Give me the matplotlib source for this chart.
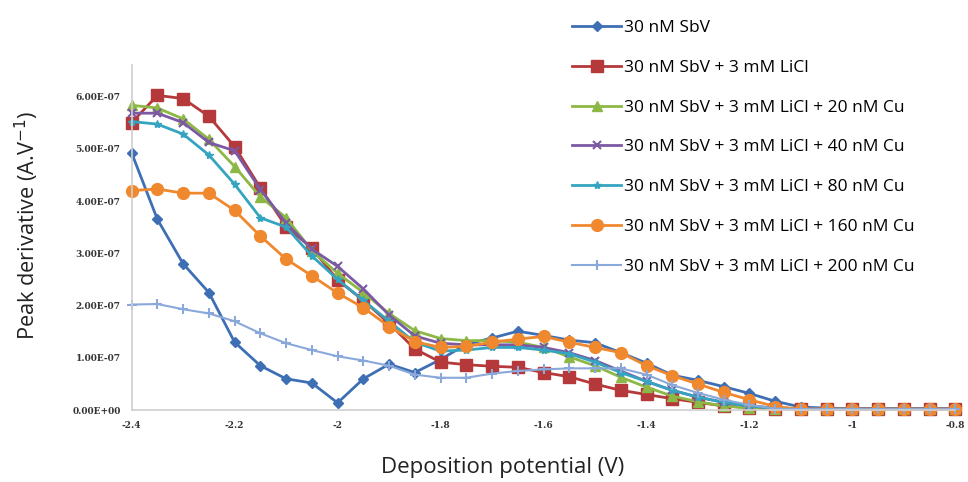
import matplotlib
matplotlib.use("Agg")
import matplotlib.pyplot as plt
import numpy as np

plt.rcParams['font.family'] = ['Open Sans', 'DejaVu Sans']

potential = [-2.4, -2.35, -2.3, -2.25, -2.2, -2.15, -2.1, -2.05, -2.0, -1.95, -1.9,
             -1.85, -1.8, -1.75, -1.7, -1.65, -1.6, -1.55, -1.5, -1.45, -1.4, -1.35,
             -1.3, -1.25, -1.2, -1.15, -1.1, -1.05, -1.0, -0.95, -0.9, -0.85, -0.8]

sbv = [4.92, 3.65, 2.80, 2.25, 1.30, 0.85, 0.60, 0.52, 0.14, 0.60, 0.88,
       0.72, 0.97, 1.26, 1.38, 1.51, 1.43, 1.34, 1.29, 1.10, 0.90, 0.67,
       0.57, 0.45, 0.32, 0.17, 0.06, 0.04, 0.03, 0.03, 0.03, 0.03, 0.03]
sbv_licl = [5.50, 6.02, 5.96, 5.62, 5.04, 4.25, 3.51, 3.10, 2.49, 2.10, 1.66,
            1.17, 0.92, 0.87, 0.84, 0.82, 0.72, 0.64, 0.50, 0.38, 0.30, 0.22,
            0.15, 0.08, 0.05, 0.03, 0.02, 0.02, 0.02, 0.02, 0.02, 0.02, 0.02]
cu20 = [5.83, 5.78, 5.57, 5.18, 4.66, 4.08, 3.68, 3.05, 2.62, 2.25, 1.85,
        1.52, 1.37, 1.33, 1.33, 1.30, 1.20, 1.02, 0.85, 0.63, 0.44, 0.27,
        0.16, 0.08, 0.04, 0.03, 0.03, 0.03, 0.03, 0.03, 0.03, 0.03, 0.03]
cu40 = [5.68, 5.68, 5.50, 5.12, 4.96, 4.22, 3.58, 3.08, 2.75, 2.32, 1.82,
        1.42, 1.28, 1.25, 1.25, 1.25, 1.20, 1.10, 0.95, 0.75, 0.55, 0.38,
        0.25, 0.15, 0.08, 0.04, 0.03, 0.03, 0.03, 0.03, 0.03, 0.03, 0.03]
cu80 = [5.52, 5.47, 5.28, 4.88, 4.32, 3.68, 3.50, 2.95, 2.50, 2.10, 1.70,
        1.30, 1.13, 1.15, 1.20, 1.20, 1.15, 1.08, 0.92, 0.72, 0.55, 0.38,
        0.25, 0.15, 0.08, 0.04, 0.02, 0.02, 0.02, 0.02, 0.02, 0.02, 0.02]
cu160 = [4.20, 4.23, 4.15, 4.15, 3.82, 3.33, 2.89, 2.57, 2.24, 1.96, 1.60,
         1.31, 1.20, 1.22, 1.30, 1.36, 1.41, 1.30, 1.20, 1.10, 0.85, 0.66,
         0.50, 0.34, 0.20, 0.07, 0.02, 0.02, 0.02, 0.02, 0.02, 0.02, 0.02]
cu200 = [2.02, 2.03, 1.93, 1.85, 1.70, 1.47, 1.28, 1.15, 1.03, 0.95, 0.85,
         0.68, 0.62, 0.62, 0.70, 0.75, 0.78, 0.80, 0.80, 0.80, 0.68, 0.48,
         0.33, 0.20, 0.10, 0.03, 0.02, 0.02, 0.02, 0.02, 0.02, 0.02, 0.02]

labels = ["30 nM SbV",
          "30 nM SbV + 3 mM LiCl",
          "30 nM SbV + 3 mM LiCl + 20 nM Cu",
          "30 nM SbV + 3 mM LiCl + 40 nM Cu",
          "30 nM SbV + 3 mM LiCl + 80 nM Cu",
          "30 nM SbV + 3 mM LiCl + 160 nM Cu",
          "30 nM SbV + 3 mM LiCl + 200 nM Cu"]
series = [sbv, sbv_licl, cu20, cu40, cu80, cu160, cu200]
scale = 1e-7

yticks = [0, 1e-7, 2e-7, 3e-7, 4e-7, 5e-7, 6e-7]
ytick_labels = ["0.00E+00", "1.00E-07", "2.00E-07", "3.00E-07", "4.00E-07", "5.00E-07", "6.00E-07"]
xticks = [-2.4, -2.2, -2.0, -1.8, -1.6, -1.4, -1.2, -1.0, -0.8]
xtick_labels = ["-2.4", "-2.2", "-2", "-1.8", "-1.6", "-1.4", "-1.2", "-1", "-0.8"]

colors = ["#3E6FB5", "#B5393A", "#8DB845", "#7B59A3", "#35A4C0", "#F0882E", "#8AA8DA"]
markers = ["D", "s", "^", "x", "*", "o", "+"]
msizes = [5, 8, 7, 6, 6, 8.5, 7]
lws = [2.0, 2.0, 2.0, 2.0, 2.0, 2.0, 1.5]

fig = plt.figure(figsize=(9.68, 4.82), dpi=100)
ax = fig.add_axes([0.136, 0.149, 0.851, 0.716])

for vals, lab, c, m, ms, lw in zip(series, labels, colors, markers, msizes, lws):
    y = np.array(vals) * scale
    ax.plot(potential, y, color=c, marker=m, markersize=ms, linewidth=lw, label=lab,
            markeredgewidth=1.5 if m in ("x", "+") else 1.0, clip_on=False)

ax.set_xlim(-2.4, -0.8)
ax.set_ylim(0, 6.6e-7)
ax.set_xticks(xticks)
ax.set_xticklabels(xtick_labels, fontsize=6.5, fontweight='bold', color='#333333',
                   family=['DejaVu Serif'])
ax.set_yticks(yticks)
ax.set_yticklabels(ytick_labels, fontsize=6.5, fontweight='bold', color='#333333',
                   family=['DejaVu Serif'])
ax.tick_params(axis='both', length=0, pad=8)
for s in ("top", "right"):
    ax.spines[s].set_visible(False)
for s in ("left", "bottom"):
    ax.spines[s].set_color("#D0D0D0")
    ax.spines[s].set_linewidth(1.2)

fig.text(503 / 968, 1 - 468 / 482, "Deposition potential (V)", fontsize=16,
         ha='center', va='center', color='#222222')
fig.text(27 / 968, 1 - 226 / 482, "Peak derivative (A.V$^{-1}$)", fontsize=15.7,
         ha='center', va='center', rotation=90, color='#222222')

leg = fig.legend(loc="upper left", bbox_to_anchor=(572 / 968, 1 - 20 / 482), frameon=False,
                 fontsize=12.5, handlelength=2.85, handletextpad=0.15, labelspacing=1.36,
                 borderaxespad=0.0, borderpad=0.0)

fig.savefig("out.png", dpi=100)
